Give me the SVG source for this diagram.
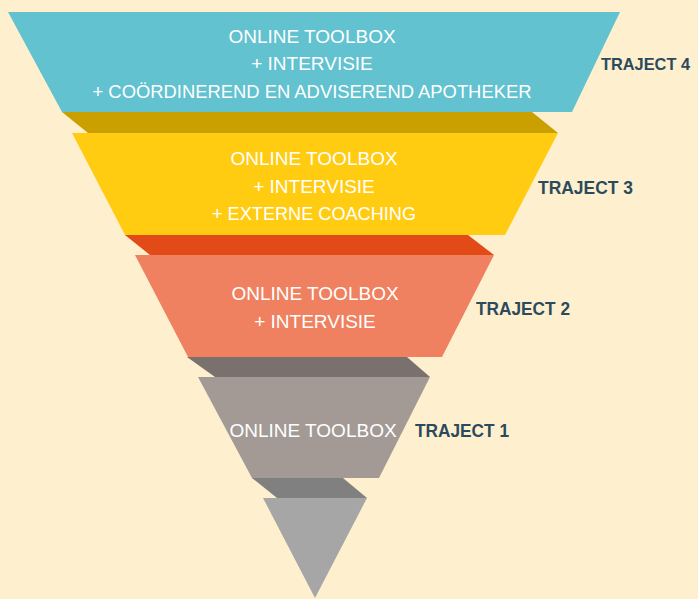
<svg xmlns="http://www.w3.org/2000/svg" width="698" height="599" viewBox="0 0 698 599">
<style>
.lbl{font-family:"Liberation Sans","Open Sans",Arial,sans-serif;font-size:19px;fill:#ffffff;text-anchor:middle}
.tr{font-family:"Liberation Sans","Open Sans",Arial,sans-serif;font-size:18px;font-weight:bold;fill:#2b4a5c}
</style>
<rect x="0" y="0" width="698" height="599" fill="#fef0cf"/>
<g id="bands">
<polygon points="62,112 532,112 558,133 88,133" fill="#c9a000"/>
<polygon points="125,235 468,235 494,255 150,255" fill="#e24a17"/>
<polygon points="187,357 407,357 430,377 215,377" fill="#7a716e"/>
<polygon points="252,478 343,478 367,498 277,498" fill="#808080"/>
</g>
<g id="traject4">
<polygon points="8,12 620,12 572,112 62,112" fill="#62c2d0"/>
<text class="lbl" x="312" y="43">ONLINE TOOLBOX</text>
<text class="lbl" x="312" y="70">+ INTERVISIE</text>
<text class="lbl" x="312" y="98" textLength="439" lengthAdjust="spacingAndGlyphs">+ COÖRDINEREND EN ADVISEREND APOTHEKER</text>
<text class="tr" x="601" y="70" style="font-size:17px" textLength="89" lengthAdjust="spacingAndGlyphs">TRAJECT 4</text>
</g>
<g id="traject3">
<polygon points="72,133 558,133 505,235 125,235" fill="#ffcc12"/>
<text class="lbl" x="314" y="165">ONLINE TOOLBOX</text>
<text class="lbl" x="314" y="193">+ INTERVISIE</text>
<text class="lbl" x="314" y="220" textLength="204" lengthAdjust="spacingAndGlyphs">+ EXTERNE COACHING</text>
<text class="tr" x="538" y="194" textLength="95" lengthAdjust="spacingAndGlyphs">TRAJECT 3</text>
</g>
<g id="traject2">
<polygon points="135,255 494,255 442,357 188,357" fill="#ef8160"/>
<text class="lbl" x="315" y="300">ONLINE TOOLBOX</text>
<text class="lbl" x="315" y="328">+ INTERVISIE</text>
<text class="tr" x="476" y="315" textLength="94" lengthAdjust="spacingAndGlyphs">TRAJECT 2</text>
</g>
<g id="traject1">
<polygon points="198,377 430,377 379,478 252,478" fill="#a39a96"/>
<text class="lbl" x="313" y="437">ONLINE TOOLBOX</text>
<text class="tr" x="415" y="437" textLength="94" lengthAdjust="spacingAndGlyphs">TRAJECT 1</text>
</g>
<g id="tip">
<polygon points="263,498 367,498 315,598" fill="#a6a6a6"/>
</g>
</svg>
